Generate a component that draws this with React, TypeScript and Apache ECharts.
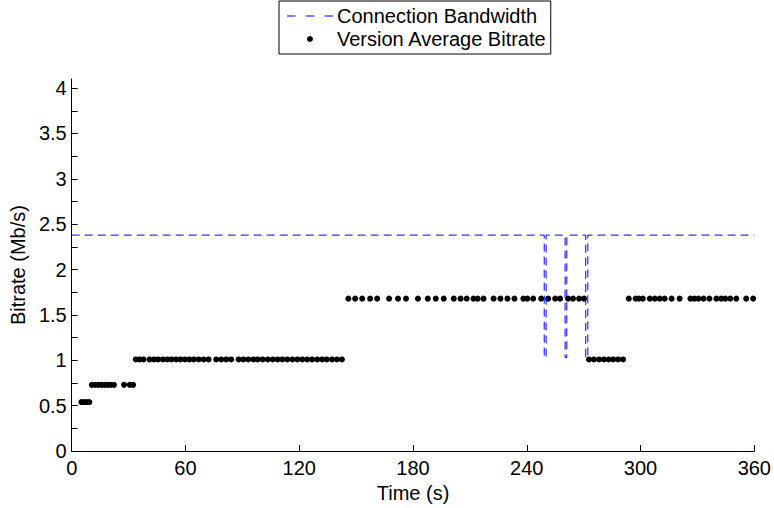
import React, { useEffect, useRef } from "react";
import * as echarts from "echarts";

// Connection bandwidth (Mb/s) over time (s)
const bandwidthTimes = [0, 249.2, 249.2, 250.2, 250.2, 260.2, 260.2, 261.1, 261.1, 271.1, 271.1, 272.2, 272.2, 360];
const bandwidthValues = [2.38, 2.38, 1.03, 1.03, 2.38, 2.38, 1.03, 1.03, 2.38, 2.38, 1.03, 1.03, 2.38, 2.38];

// Version average bitrate (Mb/s) per downloaded segment
const bitrateTimes = [
  5.1, 6.5, 7.9, 9.3,
  10.6, 12.3, 14.0, 15.6, 17.2, 18.9, 20.6, 22.3, 27.6, 30.6, 32.4,
  33.8, 35.8, 37.9, 41.1, 43.4, 45.6, 48.1, 50.4, 52.6, 55.1, 57.3, 59.7, 62.1, 64.4,
  67.0, 69.6, 72.2, 76.2, 78.9, 81.5, 84.1, 88.0, 90.6, 93.2, 95.9, 98.1, 100.7, 103.4,
  106.0, 108.6, 111.1, 113.7, 116.4, 119.0, 121.6, 124.2, 126.8, 129.5, 132.1, 134.5,
  137.3, 139.9, 142.5,
  145.9, 149.5, 153.2, 157.4, 161.1, 167.4, 172.1, 176.3, 182.6, 187.8, 192.0, 196.2,
  201.5, 205.1, 208.3, 211.9, 214.1, 217.2, 222.5, 226.1, 229.8, 233.5, 238.2, 240.3,
  243.4, 247.6, 251.3, 255.0, 257.6, 261.8, 264.4, 267.6, 270.2,
  272.8, 275.4, 278.1, 280.7, 283.2, 285.6, 288.2, 290.8,
  293.8, 297.4, 299.1, 301.2, 304.9, 307.5, 310.1, 312.7, 316.4, 320.6, 326.3, 328.4,
  330.5, 333.2, 336.3, 340.0, 342.6, 344.7, 347.3, 350.5, 355.7, 359.4,
];
const bitrateValues = [
  0.54, 0.54, 0.54, 0.54,
  0.73, 0.73, 0.73, 0.73, 0.73, 0.73, 0.73, 0.73, 0.73, 0.73, 0.73,
  1.01, 1.01, 1.01, 1.01, 1.01, 1.01, 1.01, 1.01, 1.01, 1.01, 1.01, 1.01, 1.01, 1.01,
  1.01, 1.01, 1.01, 1.01, 1.01, 1.01, 1.01, 1.01, 1.01, 1.01, 1.01, 1.01, 1.01, 1.01,
  1.01, 1.01, 1.01, 1.01, 1.01, 1.01, 1.01, 1.01, 1.01, 1.01, 1.01, 1.01,
  1.01, 1.01, 1.01,
  1.68, 1.68, 1.68, 1.68, 1.68, 1.68, 1.68, 1.68, 1.68, 1.68, 1.68, 1.68,
  1.68, 1.68, 1.68, 1.68, 1.68, 1.68, 1.68, 1.68, 1.68, 1.68, 1.68, 1.68,
  1.68, 1.68, 1.68, 1.68, 1.68, 1.68, 1.68, 1.68, 1.68,
  1.01, 1.01, 1.01, 1.01, 1.01, 1.01, 1.01, 1.01,
  1.68, 1.68, 1.68, 1.68, 1.68, 1.68, 1.68, 1.68, 1.68, 1.68, 1.68, 1.68,
  1.68, 1.68, 1.68, 1.68, 1.68, 1.68, 1.68, 1.68, 1.68, 1.68,
];

const yTickValues = [0, 0.25, 0.5, 0.75, 1, 1.25, 1.5, 1.75, 2, 2.25, 2.5, 2.75, 3, 3.25, 3.5, 3.75, 4];
const yLabelValues = [0, 0.5, 1, 1.5, 2, 2.5, 3, 3.5, 4];

const FONT = "'Liberation Sans', Arial, Helvetica, sans-serif";
const DASH_ICON = "path://M0,0H8V1H0Z M17.5,0H25.5V1H17.5Z M35,0H43V1H35Z";

export default function App() {
  const ref = useRef<HTMLDivElement>(null);
  useEffect(() => {
    if (!ref.current) return;
    const chart = echarts.init(ref.current, undefined, { renderer: "svg" });
    const textStyle = { color: "#000", fontSize: 20, fontFamily: FONT };
    chart.setOption({
      animation: false,
      backgroundColor: "#fff",
      textStyle: { fontFamily: FONT },
      legend: {
        orient: "vertical",
        left: 279,
        top: 1,
        selectedMode: false,
        borderColor: "#000",
        borderWidth: 1,
        borderRadius: 0,
        padding: [5, 4, 5, 8],
        itemGap: 3,
        itemWidth: 46,
        itemHeight: 6,
        textStyle: { ...textStyle, padding: [0, 0, 0, -1] },
        data: [
          { name: "Connection Bandwidth", icon: DASH_ICON, itemStyle: { color: "#0000ff" } },
          { name: "Version Average Bitrate", icon: "circle" },
        ],
      },
      grid: { left: 69, right: 19, top: 79, bottom: 49, containLabel: false },
      xAxis: {
        type: "value",
        min: 0,
        max: 360,
        interval: 60,
        name: "Time (s)",
        nameLocation: "middle",
        nameGap: 25,
        nameTextStyle: textStyle,
        axisLine: { show: true, onZero: false, lineStyle: { color: "#000", width: 1 } },
        axisTick: { show: true, inside: true, length: 6, lineStyle: { color: "#000" } },
        axisLabel: { ...textStyle, margin: 7 },
        splitLine: { show: false },
      },
      yAxis: {
        type: "value",
        min: 0,
        max: 4.1,
        interval: 0.5,
        name: "Bitrate (Mb/s)",
        nameLocation: "middle",
        nameGap: 38,
        nameTextStyle: textStyle,
        axisLine: { show: true, onZero: false, lineStyle: { color: "#000", width: 1 } },
        axisTick: {
          show: true,
          inside: true,
          length: 6,
          customValues: yTickValues,
          lineStyle: { color: "#000" },
        },
        axisLabel: { ...textStyle, margin: 5, customValues: yLabelValues },
        splitLine: { show: false },
      },
      series: [
        {
          name: "Connection Bandwidth",
          type: "line",
          data: bandwidthTimes.map((t, i) => [t, bandwidthValues[i]]),
          symbol: "none",
          color: "#0000ff",
          lineStyle: { color: "#0000ff", width: 1, type: [8, 5] },
          z: 3,
        },
        {
          name: "Version Average Bitrate",
          type: "scatter",
          data: bitrateTimes.map((t, i) => [t, bitrateValues[i]]),
          symbol: "circle",
          symbolSize: 6,
          color: "#000",
          itemStyle: { color: "#000", opacity: 1 },
          z: 2,
        },
      ],
    });
    return () => chart.dispose();
  }, []);
  return (
    <div
      ref={ref}
      style={{ position: "absolute", left: 0, top: 0, width: 774, height: 508, background: "#fff" }}
    />
  );
}
